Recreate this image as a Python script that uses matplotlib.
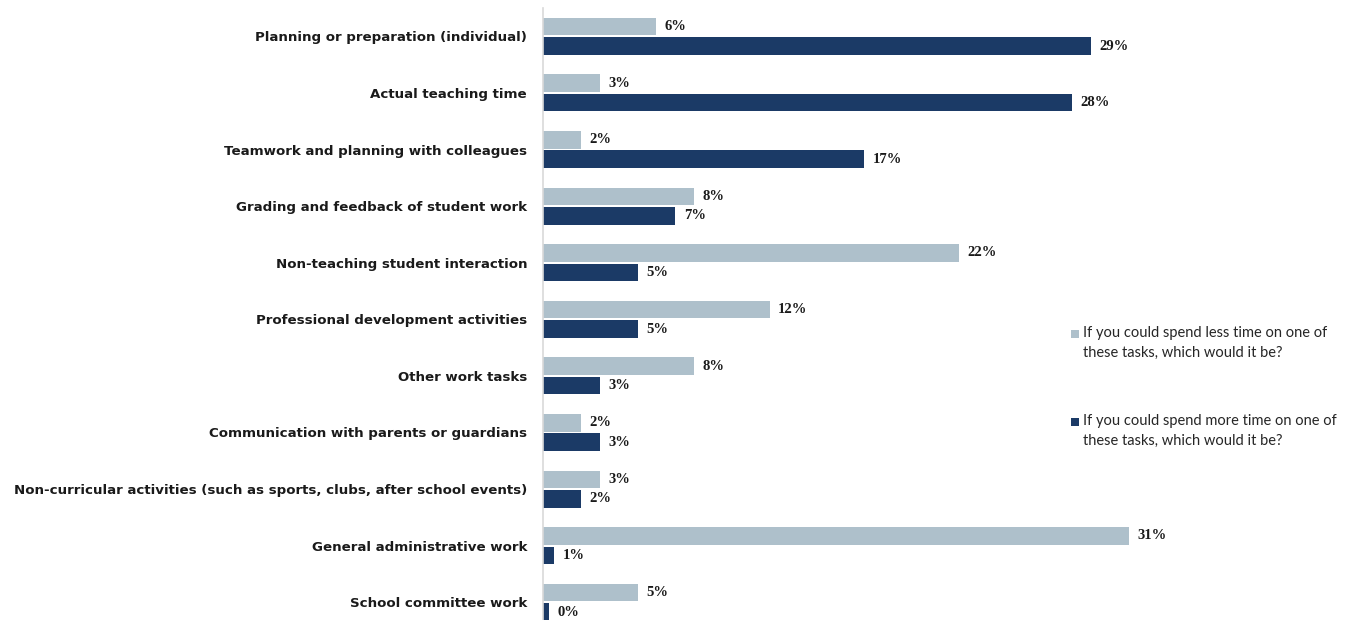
import matplotlib.pyplot as plt
from matplotlib.patches import Rectangle

# survey answers, percent of respondents
tasks = [
    "Planning or preparation (individual)",
    "Actual teaching time",
    "Teamwork and planning with colleagues",
    "Grading and feedback of student work",
    "Non-teaching student interaction",
    "Professional development activities",
    "Other work tasks",
    "Communication with parents or guardians",
    "Non-curricular activities (such as sports, clubs, after school events)",
    "General administrative work",
    "School committee work",
]
less_time = [6, 3, 2, 8, 22, 12, 8, 2, 3, 31, 5]
more_time = [29, 28, 17, 7, 5, 5, 3, 3, 2, 0.6, 0.3]
series_names = [
    "If you could spend less time on one of\nthese tasks, which would it be?",
    "If you could spend more time on one of\nthese tasks, which would it be?",
]
colors = ["#AEC0CB", "#1B3A66"]

W, H = 1351, 620
fig = plt.figure(figsize=(W / 100, H / 100), dpi=100)
ax = fig.add_axes([543 / W, 0, 1 - 543 / W, 1 - 8 / H])

rows = list(range(len(tasks)))
bar_h = 0.31
off = 0.172
b1 = ax.barh([r - off for r in rows], less_time, height=bar_h, color=colors[0], zorder=2)
b2 = ax.barh([r + off for r in rows], more_time, height=bar_h, color=colors[1], zorder=2)

for bars in (b1, b2):
    ax.bar_label(bars, fmt="{:.0f}%", padding=6, fontsize=10.5,
                 fontfamily="Liberation Serif", fontweight="bold", color="#1a1a1a")

ax.set_xlim(0, (W - 543) / 18.9)
ax.set_ylim((H - 8) / 56.6 - 0.5, -0.5)
ax.set_yticks(rows)
ax.set_yticklabels(tasks, fontsize=9.6, fontfamily="DejaVu Sans", fontweight="bold", color="#1a1a1a")
ax.tick_params(axis="y", length=0, pad=11.5)
ax.set_xticks([])

for side in ("top", "right", "bottom"):
    ax.spines[side].set_visible(False)
ax.spines["left"].set_color("#d9d9d9")
ax.spines["left"].set_linewidth(1.2)

# legend drawn by hand so the swatch sits on the first text line
legend_y = [334, 422]
for name, col, y in zip(series_names, colors, legend_y):
    fig.patches.append(Rectangle(((1071) / W, 1 - (y + 4) / H), 8 / W, 8 / H,
                                 transform=fig.transFigure, facecolor=col, edgecolor="none"))
    fig.text(1083 / W, 1 - (y - 8) / H, name, fontsize=10.5, fontfamily="Lato",
             color="#262626", va="top", ha="left", linespacing=1.55)

fig.savefig("out.png", dpi=100)
